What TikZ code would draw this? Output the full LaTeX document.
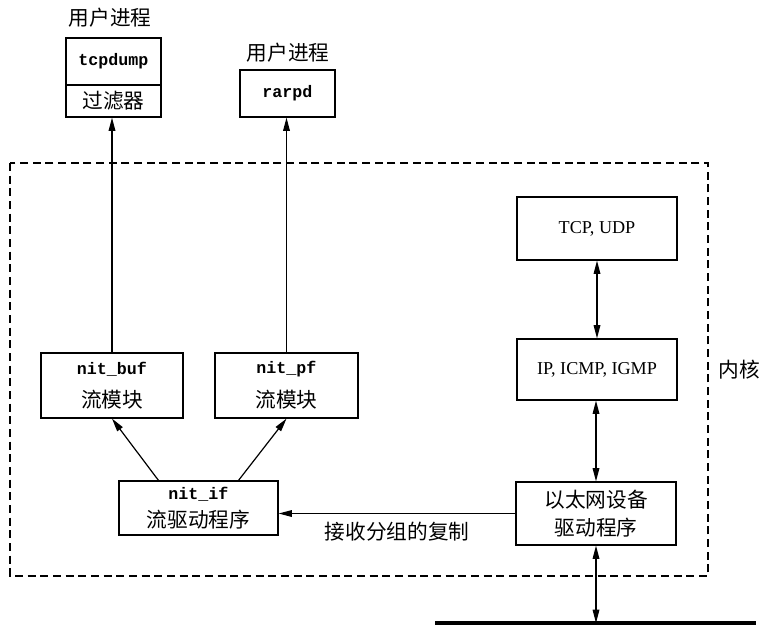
\documentclass[tikz,border=0pt]{standalone}
\usepackage{fontspec}
\setmonofont{Liberation Mono}
\newfontfamily\cjk{Noto Sans CJK SC}
\newfontfamily\protofont{Liberation Serif}
\usetikzlibrary{positioning,arrows.meta,calc}

\begin{document}
\def\u{0.75pt}
\begin{tikzpicture}[
  x=\u, y=-\u,
  >={Triangle[length=10pt, width=5pt]},
  box/.style={draw=black, line width=0.9pt, align=center, inner sep=0pt},
  prog/.style={font=\ttfamily\bfseries\fontsize{12.5}{14}\selectfont},
  zh/.style={font=\cjk\fontsize{15.5}{20}\selectfont},
  proto/.style={font=\protofont\fontsize{13.6}{16}\selectfont},
  flow/.style={->, line width=0.9pt},
  both/.style={<->, line width=0.9pt},
  kernel/.style={draw=black, line width=0.9pt, dash pattern=on 6pt off 3.5pt},
]
\useasboundingbox (0,0) rectangle (760,626);

% ---- kernel frame ----
\draw[kernel] (10,163) rectangle (708,576);
\node[zh] (klbl) at (739,370) {内核};

% ---- user processes ----
\node[zh] (u1) at (110,18) {用户进程};
\node[box, prog, minimum width=95*\u, minimum height=47*\u] (tcpd) at (113.5,61.5) {tcpdump};
\node[box, zh, minimum width=95*\u, minimum height=32*\u] (filt) at (113.5,101) {过滤器};
\node[zh] (u2) at (288,53) {用户进程};
\node[box, prog, minimum width=95*\u, minimum height=47*\u] (rarpd) at (287.5,93.5) {rarpd};

% ---- stream modules ----
\node[box, minimum width=142*\u, minimum height=65*\u] (nitbuf) at (112,385.5)
      {{\ttfamily\bfseries\fontsize{12.5}{14}\selectfont nit\_buf}\\[9pt]{\cjk\fontsize{15.5}{20}\selectfont 流模块}};
\node[box, minimum width=143*\u, minimum height=65*\u] (nitpf) at (286.5,385.5)
      {{\ttfamily\bfseries\fontsize{12.5}{14}\selectfont nit\_pf}\\[9pt]{\cjk\fontsize{15.5}{20}\selectfont 流模块}};
\node[box, minimum width=159*\u, minimum height=54*\u] (nitif) at (198.5,508)
      {{\ttfamily\bfseries\fontsize{12.5}{14}\selectfont nit\_if}\\[6pt]{\cjk\fontsize{15.5}{20}\selectfont 流驱动程序}};

% ---- protocol stack ----
\node[box, proto, minimum width=160*\u, minimum height=63*\u] (tcpudp) at (597,228.5) {TCP, UDP};
\node[box, proto, minimum width=160*\u, minimum height=61*\u] (ip) at (597,369.5) {IP, ICMP, IGMP};
\node[box, zh, minimum width=160*\u, minimum height=63*\u] (eth) at (596,513.5)
      {以太网设备\\[1pt]驱动程序};

% ---- wire ----
\coordinate (wireL) at (435,623);
\coordinate (wireR) at (756,623);
\draw[line width=2.4pt] (wireL) -- (wireR);

% ---- edges ----
\draw[flow] (nitbuf.north) -- (nitbuf.north |- filt.south);
\draw[flow] (nitpf.north) -- (nitpf.north |- rarpd.south);
\draw[flow] ($(nitif.north)+(-40,0)$) -- (nitbuf.south);
\draw[flow] ($(nitif.north)+(40,0)$) -- (nitpf.south);
\draw[flow] (eth.west) -- node[zh, below=3pt]{接收分组的复制} (eth.west -| nitif.east);
\draw[both] (tcpudp.south) -- (ip.north);
\draw[both] (ip.south -| eth.north) -- (eth.north);
\draw[both] (eth.south) -- (eth.south |- wireL);
\end{tikzpicture}
\end{document}
